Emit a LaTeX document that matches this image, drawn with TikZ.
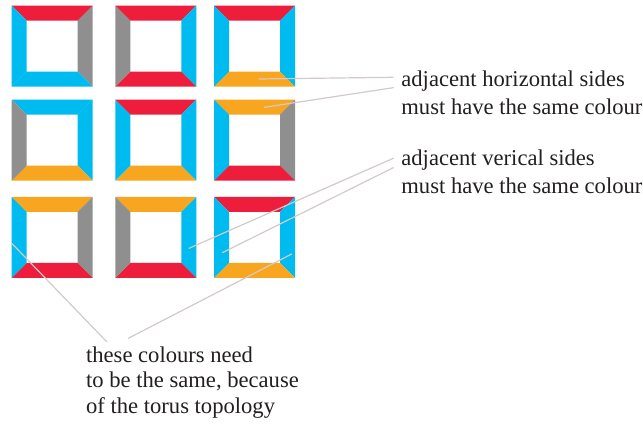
\documentclass[tikz,border=0pt]{standalone}
\usepackage{fontspec}
\setmainfont{Liberation Serif}
\usepackage{xcolor}
\usetikzlibrary{positioning}
\definecolor{TileRed}{HTML}{EE1D3B}
\definecolor{TileCyan}{HTML}{00BBF0}
\definecolor{TileGray}{HTML}{8F8F8F}
\definecolor{TileOrange}{HTML}{F8A51F}
\definecolor{NoteText}{HTML}{231F20}
\definecolor{LeaderGray}{HTML}{D2CACA}
\tikzset{
  every picture/.style = {line join=round, line cap=round},
  side/.style = {fill=#1, draw=none},
  leader/.style = {draw=LeaderGray, line width=0.6pt},
  note/.style = {
    font=\fontsize{11.3}{13.75}\selectfont,
    text=NoteText,
    align=left,
    inner sep=0pt,
    anchor=base west
  },
  note tight/.style = {note, font=\fontsize{11.3}{12.85}\selectfont},
}

\begin{document}
\begin{tikzpicture}[x=0.5pt,y=-0.5pt]
  \useasboundingbox (0,0) rectangle (643,426);

  % tiles: corner, then top/right/bottom/left
  \foreach \x/\y/\ct/\cr/\cb/\cl in {
      11.7/5.7/TileRed/TileGray/TileCyan/TileCyan,
      115.3/5.7/TileRed/TileCyan/TileRed/TileGray,
      214/5.7/TileRed/TileCyan/TileOrange/TileCyan,
      11.7/99.7/TileCyan/TileCyan/TileOrange/TileGray,
      115.3/99.7/TileRed/TileCyan/TileOrange/TileCyan,
      214/99.7/TileOrange/TileGray/TileRed/TileCyan,
      11.7/197/TileOrange/TileGray/TileRed/TileCyan,
      115.3/197/TileOrange/TileCyan/TileRed/TileGray,
      214/197/TileRed/TileCyan/TileOrange/TileCyan} {
    \fill[side=\ct] (\x,\y) -- ++(81,0) -- ++(-15,15) -- ++(-51,0) -- cycle;
    \fill[side=\cr] (\x+81,\y) -- ++(0,81) -- ++(-15,-15) -- ++(0,-51) -- cycle;
    \fill[side=\cb] (\x+81,\y+81) -- ++(-81,0) -- ++(15,-15) -- ++(51,0) -- cycle;
    \fill[side=\cl] (\x,\y+81) -- ++(0,-81) -- ++(15,15) -- ++(0,51) -- cycle;
  }

  % notes, placed at the baseline of their last line
  \node[note] (hnote) at (401,114.3) {adjacent horizontal sides\\must have the same colour};
  \node[note] (vnote) at (401,193.3) {adjacent verical sides\\must have the same colour};
  \node[note tight] (tnote) at (85.7,413.7) {these colours need\\to be the same, because\\of the torus topology};

  % leader ends on the tiles
  \coordinate (h13) at (259,79);
  \coordinate (h23) at (264.3,107.3);
  \coordinate (v32) at (189,248.3);
  \coordinate (v33) at (222.3,252.7);
  \coordinate (t33) at (291.7,254);
  \coordinate (t31) at (11.7,243.3);

  \draw[leader] (h13) -- ([shift={(-8,-37)}]hnote.base west);
  \draw[leader] (h23) -- ([shift={(-7.7,-26.6)}]hnote.base west);
  \draw[leader] (v32) -- ([shift={(-7.7,-35)}]vnote.base west);
  \draw[leader] (v33) -- ([shift={(-7.7,-25.6)}]vnote.base west);
  \draw[leader] (t33) -- ([shift={(42.6,-75.4)}]tnote.base west);
  \draw[leader] (t31) -- ([shift={(21,-72)}]tnote.base west);
\end{tikzpicture}
\end{document}
